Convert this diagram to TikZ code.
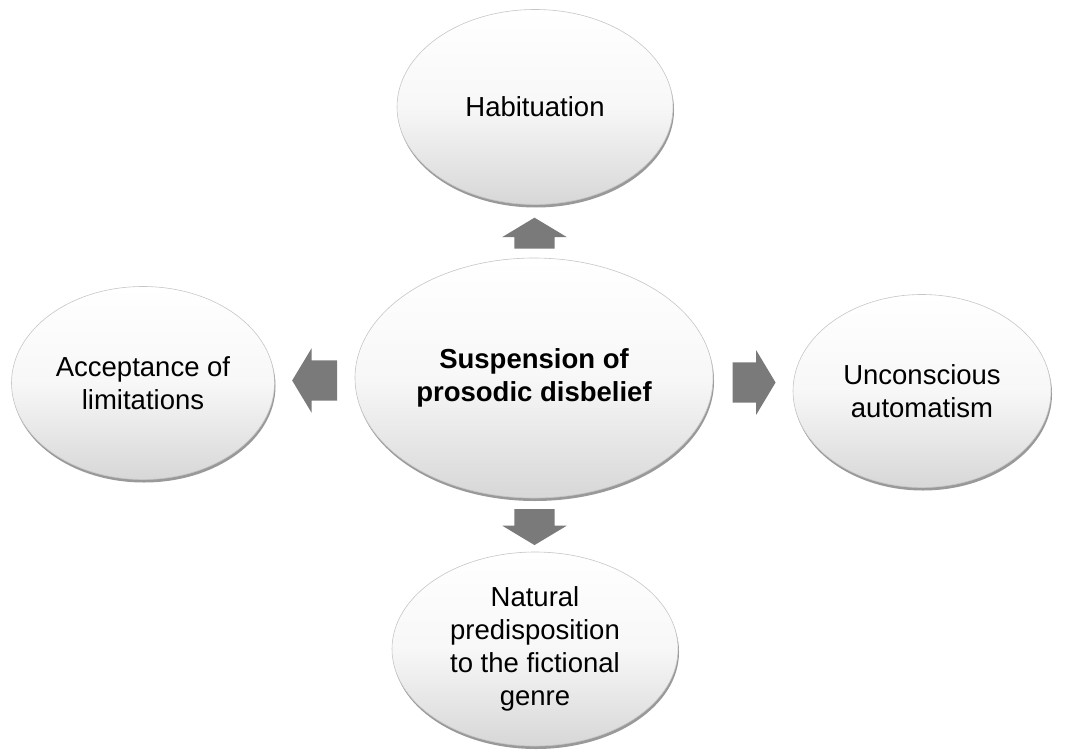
\documentclass[tikz,border=0pt]{standalone}
\usepackage{fontspec}
\setmainfont{Liberation Sans}
\usetikzlibrary{shapes.geometric,shapes.arrows,shadows,calc}
\definecolor{arrowgray}{RGB}{122,122,122}
\definecolor{ellbot}{RGB}{215,215,215}
\tikzset{
  bubble/.style={ellipse, inner sep=0pt, align=center,
    draw=gray!45, line width=0.6pt,
    top color=white, bottom color=ellbot, middle color=white!97!black,
    drop shadow={shadow xshift=1pt, shadow yshift=-3pt, opacity=0.4, fill=black},
    font=\fontsize{27.5}{33}\selectfont},
  blockarrow/.style={single arrow, draw=none, fill=arrowgray,
    inner xsep=0pt, inner ysep=20pt, text height=0pt, text depth=0pt,
    single arrow head extend=12pt, single arrow tip angle=118}
}
\begin{document}
\begin{tikzpicture}[x=1pt,y=-1pt]
\useasboundingbox (0,0) rectangle (1067,754);
\node[bubble, minimum width=276pt, minimum height=195pt] (top) at (535,107) {Habituation};
\node[bubble, minimum width=263pt, minimum height=193pt] (left) at (143,383) {Acceptance of\\limitations};
\node[bubble, minimum width=258pt, minimum height=193pt] (right) at (922,391) {Unconscious\\automatism};
\node[bubble, minimum width=286pt, minimum height=194pt] (bottom) at (535,649) {Natural\\predisposition\\to the fictional\\genre};
\node[bubble, minimum width=358pt, minimum height=240pt, font=\fontsize{27.5}{33}\selectfont\bfseries] (center) at (534,378) {Suspension of\\prosodic disbelief};
\node[blockarrow, minimum height=31pt, rotate=90] (aup) at ($(center.north)!0.5!(top.south)+(0,8)$) {};
\node[blockarrow, minimum height=45pt, rotate=180] (aleft) at ($(center.west)!0.5!(left.east)+(6,0)$) {};
\node[blockarrow, minimum height=43pt] (aright) at ($(center.east)!0.5!(right.west)+(-5,-2)$) {};
\node[blockarrow, minimum height=36pt, rotate=270] (adown) at ($(center.south)!0.5!(bottom.north)+(0,-4)$) {};
\end{tikzpicture}
\end{document}
